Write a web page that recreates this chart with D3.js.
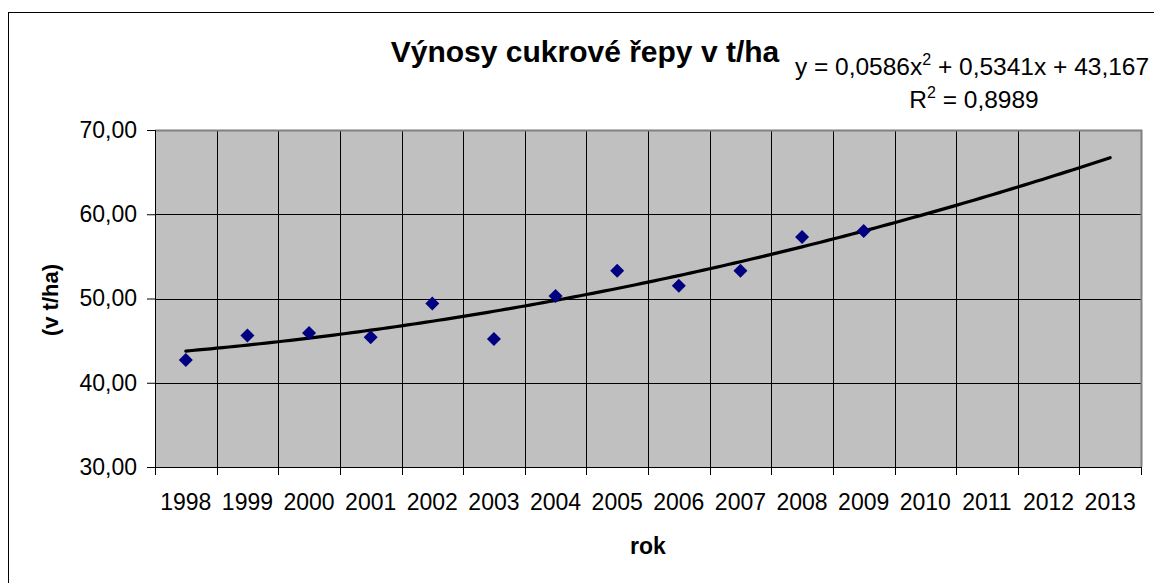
<!DOCTYPE html>
<html>
<head>
<meta charset="utf-8">
<script src="https://cdn.jsdelivr.net/npm/d3@7"></script>
<style>
  body { margin: 0; background: #fff; }
  text { font-family: "Liberation Sans", Arial, sans-serif; fill: #000; }
</style>
</head>
<body>
<script>
// data
var years = ["1998", "1999", "2000", "2001", "2002", "2003", "2004", "2005",
             "2006", "2007", "2008", "2009", "2010", "2011", "2012", "2013"];
var yields = [42.7, 45.6, 45.9, 45.4, 49.4, 45.2, 50.3, 53.3, 51.5, 53.3, 57.3, 58.0];
var yTicks = [30, 40, 50, 60, 70];

// polynomial trendline shown on the chart: y = a*x^2 + b*x + c
var trendA = 0.0586, trendB = 0.5341, trendC = 43.167;
var rSquared = 0.8989;

var width = 1154, height = 583;
var plot = {left: 155, top: 130, right: 1141, bottom: 467};

var locale = d3.formatLocale({decimal: ",", thousands: " ", grouping: [3], currency: ["", " Kč"]});
var fmt2 = locale.format(".2f"),
    fmt3 = locale.format(".3f"),
    fmt4 = locale.format(".4f");

var svg = d3.select("body").append("svg")
    .attr("width", width)
    .attr("height", height);

// outer chart frame (only top and left visible)
svg.append("rect")
    .attr("x", 8.5).attr("y", 12.5)
    .attr("width", 1300).attr("height", 700)
    .attr("fill", "none")
    .attr("stroke", "#000");

var x = d3.scaleBand()
    .domain(years)
    .range([plot.left, plot.right])
    .padding(0);

var y = d3.scaleLinear()
    .domain([30, 70])
    .range([plot.bottom, plot.top]);

// trendline x: 1..n mapped to category centres
var xt = d3.scaleLinear()
    .domain([1, years.length])
    .range([x(years[0]) + x.bandwidth() / 2, x(years[years.length - 1]) + x.bandwidth() / 2]);

svg.append("rect")
    .attr("x", plot.left).attr("y", plot.top)
    .attr("width", plot.right - plot.left)
    .attr("height", plot.bottom - plot.top)
    .attr("fill", "#c0c0c0");

// gridlines
svg.append("g")
  .selectAll("line")
    .data(yTicks.slice(1, -1))
  .enter().append("line")
    .attr("x1", plot.left).attr("x2", plot.right)
    .attr("y1", function(d) { return Math.round(y(d)) + 0.5; })
    .attr("y2", function(d) { return Math.round(y(d)) + 0.5; })
    .attr("stroke", "#000");

svg.append("g")
  .selectAll("line")
    .data(years.slice(1))
  .enter().append("line")
    .attr("x1", function(d) { return Math.round(x(d)) + 0.5; })
    .attr("x2", function(d) { return Math.round(x(d)) + 0.5; })
    .attr("y1", plot.top).attr("y2", plot.bottom)
    .attr("stroke", "#000");

// plot border top / right
svg.append("path")
    .attr("d", "M" + plot.left + "," + (plot.top + 0.5) + "H" + (plot.right + 0.5) + "V" + plot.bottom)
    .attr("fill", "none")
    .attr("stroke", "#808080")
    .attr("stroke-width", 2);

// y axis
var yAxis = svg.append("g")
    .attr("transform", "translate(" + plot.left + ",0)")
    .call(d3.axisLeft(y).tickValues(yTicks).tickFormat(fmt2).tickSize(8).tickPadding(10));
yAxis.selectAll("text").style("font-size", "23px");
yAxis.selectAll("line, path").attr("stroke", "#000");

// x axis: labels at centres, ticks at boundaries
var xAxis = svg.append("g")
    .attr("transform", "translate(0," + plot.bottom + ")")
    .call(d3.axisBottom(x).tickSize(0).tickPadding(27));
xAxis.selectAll("text").style("font-size", "23px");
xAxis.select(".domain").attr("stroke", "#000");

xAxis.selectAll("line.bound")
    .data(years.concat(["end"]))
  .enter().append("line")
    .attr("class", "bound")
    .attr("x1", function(d) { return Math.round(d === "end" ? plot.right : x(d)) + 0.5; })
    .attr("x2", function(d) { return Math.round(d === "end" ? plot.right : x(d)) + 0.5; })
    .attr("y1", 0).attr("y2", 8)
    .attr("stroke", "#000");

// trendline
var ts = d3.range(1, years.length + 0.001, 0.1);
svg.append("path")
    .datum(ts)
    .attr("fill", "none")
    .attr("stroke", "#000")
    .attr("stroke-width", 3.2)
    .attr("stroke-linecap", "round")
    .attr("d", d3.line()
        .x(function(t) { return xt(t); })
        .y(function(t) { return y(trendA * t * t + trendB * t + trendC); }));

// data points
svg.append("g")
  .selectAll("path")
    .data(yields)
  .enter().append("path")
    .attr("d", d3.symbol().type(d3.symbolSquare).size(98))
    .attr("transform", function(d, i) {
      return "translate(" + (x(years[i]) + x.bandwidth() / 2) + "," + y(d) + ") rotate(45)";
    })
    .attr("fill", "#000080");

// titles
svg.append("text")
    .attr("x", 585).attr("y", 62)
    .attr("text-anchor", "middle")
    .style("font-size", "30px")
    .style("font-weight", "bold")
    .text("Výnosy cukrové řepy v t/ha");

var eq = svg.append("text")
    .attr("x", 972).attr("y", 75)
    .attr("text-anchor", "middle")
    .style("font-size", "24.5px");
eq.append("tspan").text("y = " + fmt4(trendA) + "x");
eq.append("tspan").attr("dy", -10).style("font-size", "16px").text("2");
eq.append("tspan").attr("dy", 10).text(" + " + fmt4(trendB) + "x + " + fmt3(trendC));

var r2 = svg.append("text")
    .attr("x", 974).attr("y", 108)
    .attr("text-anchor", "middle")
    .style("font-size", "24.5px");
r2.append("tspan").text("R");
r2.append("tspan").attr("dy", -10).style("font-size", "16px").text("2");
r2.append("tspan").attr("dy", 10).text(" = " + fmt4(rSquared));

svg.append("text")
    .attr("transform", "translate(50,300) rotate(-90)")
    .attr("text-anchor", "middle")
    .attr("dy", "0.35em")
    .style("font-size", "22px")
    .style("font-weight", "bold")
    .text("(v t/ha)");

svg.append("text")
    .attr("x", (plot.left + plot.right) / 2).attr("y", 554)
    .attr("text-anchor", "middle")
    .style("font-size", "23px")
    .style("font-weight", "bold")
    .text("rok");
</script>
</body>
</html>
